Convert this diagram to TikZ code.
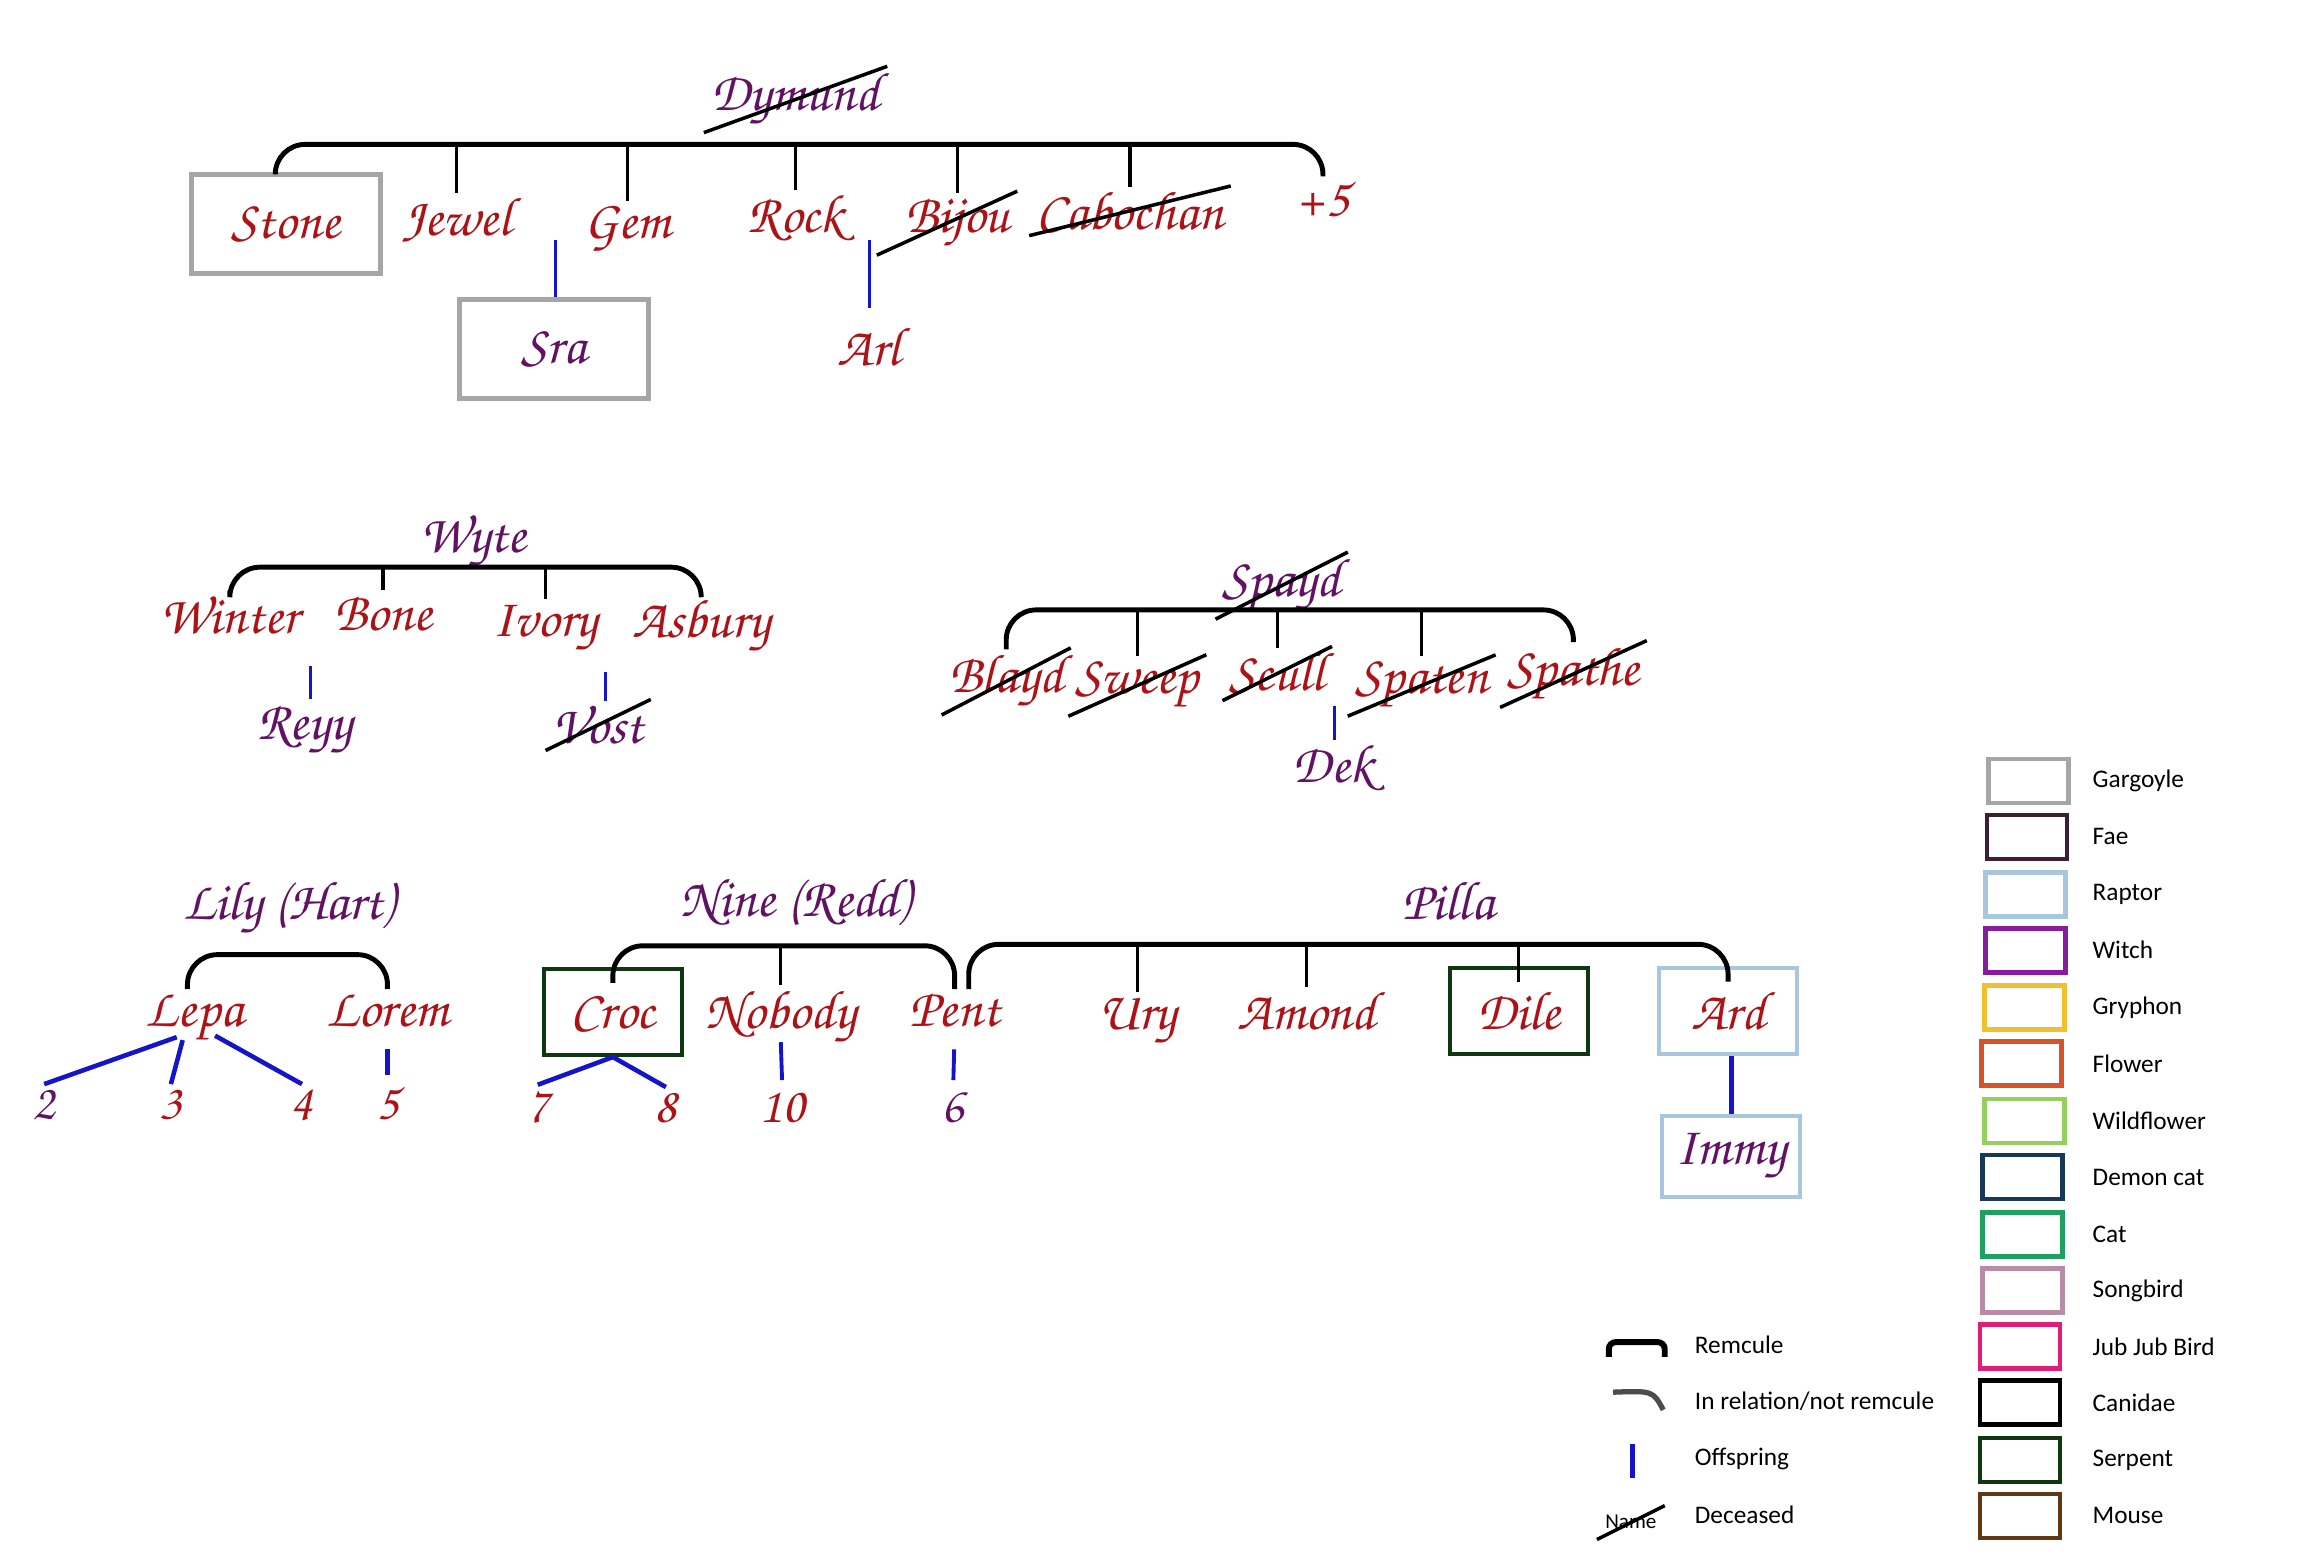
\documentclass[tikz,border=0pt]{standalone}
\usepackage{fontspec}
\usepackage{xcolor}
\usepackage{tikz}
\newfontfamily\keyfont{Carlito}
\newcommand\scriptname{\fontencoding{T1}\fontfamily{pzc}\fontseries{mb}\fontshape{it}\fontsize{15.5}{18}\selectfont}
\newcommand\scriptnum{\fontencoding{T1}\fontfamily{pzc}\fontseries{mb}\fontshape{it}\fontsize{14.5}{17}\selectfont}
\definecolor{kidred}{RGB}{172,18,22}
\definecolor{elderpurple}{RGB}{98,18,98}
\definecolor{kinblue}{RGB}{20,20,200}
\definecolor{gargoyle}{RGB}{166,166,166}
\definecolor{fae}{RGB}{64,30,50}
\definecolor{raptor}{RGB}{168,198,222}
\definecolor{witch}{RGB}{136,28,160}
\definecolor{gryphon}{RGB}{240,192,48}
\definecolor{flower}{RGB}{216,84,40}
\definecolor{wildflower}{RGB}{150,206,96}
\definecolor{demoncat}{RGB}{24,56,90}
\definecolor{cat}{RGB}{30,160,96}
\definecolor{songbird}{RGB}{184,140,168}
\definecolor{jubjub}{RGB}{224,30,120}
\definecolor{canidae}{RGB}{0,0,0}
\definecolor{serpent}{RGB}{16,56,16}
\definecolor{mouse}{RGB}{96,56,20}
\tikzset{
  kid/.style={font=\scriptname, text=kidred, inner sep=1pt, anchor=base},
  elder/.style={kid, text=elderpurple},
  num/.style={kid, font=\scriptnum},
  kind/.style={draw=#1, line width=1.1pt, anchor=center, minimum width=1.38cm, minimum height=0.86cm},
  remcule/.style={line width=1.4pt, rounded corners=0.3cm},
  tie/.style={line width=0.9pt},
  offspring/.style={draw=kinblue, line width=0.9pt},
  dead/.style={line width=1pt, shorten <=-1pt, shorten >=-1pt},
  key/.style={draw=#1, line width=1.3pt, minimum width=0.8cm, minimum height=0.44cm},
  keytext/.style={font=\keyfont\fontsize{7.2}{9}\selectfont, anchor=west, inner sep=0pt}
}
\begin{document}
\begin{tikzpicture}[x=0.14732mm, y=-0.14732mm]
\useasboundingbox (0,0) rectangle (1568,1057);

\node[elder] (dymund) at (540,75) {Dymund};
\node[kid, kind=gargoyle, line width=1.4pt, minimum width=1.89cm, minimum height=0.99cm] (stone) at (194,152) {Stone};
\node[kid] (jewel) at (310,160) {Jewel};
\node[kid] (gem) at (426,162) {Gem};
\node[kid] (rock) at (540,158) {Rock};
\node[kid] (bijou) at (650,158) {Bijou};
\node[kid] (cabochan) at (767,156) {Cabochan};
\node[kid] (plusfive) at (898,147) {+5};
\node[elder, kind=gargoyle, line width=1.4pt, minimum width=1.89cm, minimum height=0.99cm] (sra) at (376,237) {Sra};
\node[kid] (arl) at (590,248) {Arl};
\coordinate (dymbar) at (540,98);
\coordinate (gemkin) at (377,163);
\coordinate (bijoukin) at (590,163);
\draw[remcule] ([xshift=-3pt]stone.north) |- (dymbar) -| (plusfive.north);
\draw[tie] (jewel.north) -- (jewel.north |- dymbar);
\draw[tie] (gem.north) -- (gem.north |- dymbar);
\draw[tie] (rock.north) -- (rock.north |- dymbar);
\draw[tie] (bijou.north) -- (bijou.north |- dymbar);
\draw[tie] (cabochan.north) -- (cabochan.north |- dymbar);
\draw[dead] (dymund.south west) -- (dymund.north east);
\draw[dead] ([xshift=-6pt]bijou.south west) -- (bijou.north east);
\draw[dead] (cabochan.south west) -- (cabochan.north east);
\draw[offspring] (gemkin) -- (gemkin |- sra.north);
\draw[offspring, shorten >=4pt] (bijoukin) -- (arl.north);

\node[elder] (wyte) at (321,375) {Wyte};
\node[kid] (winter) at (156,430) {Winter};
\node[kid] (bone) at (260,428) {Bone};
\node[kid] (ivory) at (370,432) {Ivory};
\node[kid] (asbury) at (476,433) {Asbury};
\node[elder] (reyy) at (207,502) {Reyy};
\node[elder] (vost) at (406,505) {Vost};
\coordinate (wytebar) at (321,385);
\coordinate (winterkin) at (211,452);
\coordinate (ivorykin) at (411,456);
\draw[remcule] (winter.north) |- (wytebar) -| (asbury.north);
\draw[tie] (bone.north) -- (bone.north |- wytebar);
\draw[tie] (ivory.north) -- (ivory.north |- wytebar);
\draw[dead] (vost.south west) -- (vost.north east);
\draw[offspring] (winterkin) -- (winterkin |- reyy.north);
\draw[offspring] (ivorykin) -- (ivorykin |- vost.north);

\node[elder] (spayd) at (870,405) {Spayd};
\node[kid] (blayd) at (683,470) {Blayd};
\node[kid] (sweep) at (772,471) {Sweep};
\node[kid] (scull) at (867,469) {Scull};
\node[kid] (spaten) at (965,471) {Spaten};
\node[kid] (spathe) at (1068,465) {Spathe};
\node[elder] (dek) at (905,531) {Dek};
\coordinate (spaydbar) at (876,414);
\coordinate (scullkin) at (906,479);
\draw[remcule] (blayd.north) |- (spaydbar) -| (spathe.north);
\draw[tie] (sweep.north) -- (sweep.north |- spaydbar);
\draw[tie] (scull.north) -- (scull.north |- spaydbar);
\draw[tie] (spaten.north) -- (spaten.north |- spaydbar);
\draw[dead] (spayd.south west) -- (spayd.north east);
\draw[dead] (blayd.south west) -- (blayd.north east);
\draw[dead] (sweep.south west) -- (sweep.north east);
\draw[dead] (scull.south west) -- (scull.north east);
\draw[dead] (spaten.south west) -- (spaten.north east);
\draw[dead] (spathe.south west) -- (spathe.north east);
\draw[offspring] (scullkin) -- ++(0,23);

\node[elder] (lily) at (196,624) {Lily (Hart)};
\node[kid] (lepa) at (132,697) {Lepa};
\node[kid] (lorem) at (263,697) {Lorem};
\node[num, text=elderpurple] (n2) at (30,760) {2};
\node[num] (n3) at (116,760) {3};
\node[num] (n4) at (205,760) {4};
\node[num] (n5) at (263,760) {5};
\coordinate (lilybar) at (198,648);
\draw[remcule] ([xshift=-2pt]lepa.north) |- (lilybar) -| (lorem.north);
\draw[offspring, line width=1.3pt] ([shift={(-12,7)}]lepa.base) -- (n2.north);
\draw[offspring, line width=1.3pt] ([shift={(-8,9)}]lepa.base) -- (n3.north);
\draw[offspring, line width=1.3pt] ([shift={(14,6)}]lepa.base) -- (n4.north);
\draw[offspring, line width=1.3pt, shorten <=5pt, shorten >=2pt] (lorem.south) -- (n5.north);

\node[elder] (nine) at (540,622) {Nine (Redd)};
\node[kid, kind=serpent] (croc) at (416,687) {Croc};
\node[kid] (nobody) at (530,698) {Nobody};
\node[kid] (pent) at (648,697) {Pent};
\node[num] (n7) at (365,762) {7};
\node[num] (n8) at (452,762) {8};
\node[num] (n10) at (531,762) {10};
\node[num, text=elderpurple] (n6) at (647,762) {6};
\coordinate (ninebar) at (530,642);
\draw[remcule] ([yshift=-4.5pt]croc.north) |- (ninebar) -| (pent.north);
\draw[tie] (nobody.north) -- (nobody.north |- ninebar);
\draw[offspring, line width=1.3pt] (croc.south) -- (n7.north);
\draw[offspring, line width=1.3pt] (croc.south) -- (n8.north);
\draw[offspring, line width=1.1pt, shorten >=2pt] ([yshift=2pt]nobody.south) -- (n10.north);
\draw[offspring, line width=1.1pt, shorten <=5pt, shorten >=2pt] (pent.south) -- (n6.north);

\node[elder] (pilla) at (983,624) {Pilla};
\node[kid] (ury) at (772,699) {Ury};
\node[kid] (amond) at (887,699) {Amond};
\node[kid, kind=serpent] (dile) at (1031,686) {Dile};
\node[kid, kind=raptor] (ard) at (1173,686) {Ard};
\node[elder, kind=raptor, minimum height=0.81cm] (immy) at (1175,785) {Immy};
\coordinate (pillabar) at (983,641);
\draw[remcule] ([xshift=4pt]pent.north) |- (pillabar) -| ([yshift=-4.5pt]ard.north);
\draw[tie] (ury.north) -- (ury.north |- pillabar);
\draw[tie] (amond.north) -- (amond.north |- pillabar);
\draw[tie] ([yshift=-4.5pt]dile.north) -- (dile.north |- pillabar);
\draw[offspring, line width=1.3pt] ([xshift=1pt]ard.south) -- ([xshift=1pt]ard.south |- immy.north);

\node[key=gargoyle] (keygargoyle) at (1377,530) {};
\node[key=fae] (keyfae) at (1376,568) {};
\node[key=raptor] (keyraptor) at (1375,607) {};
\node[key=witch] (keywitch) at (1375,645) {};
\node[key=gryphon] (keygryphon) at (1374,684) {};
\node[key=flower] (keyflower) at (1372,722) {};
\node[key=wildflower] (keywildflower) at (1374,761) {};
\node[key=demoncat] (keydemoncat) at (1373,799) {};
\node[key=cat] (keycat) at (1373,838) {};
\node[key=songbird] (keysongbird) at (1373,876) {};
\node[key=jubjub] (keyjubjub) at (1371,914) {};
\node[key=canidae] (keycanidae) at (1371,952) {};
\node[key=serpent] (keyserpent) at (1371,991) {};
\node[key=mouse] (keymouse) at (1371,1029) {};
\node[keytext] (labgargoyle) at (1420,530) {Gargoyle};
\node[keytext] (labfae) at (1420,568) {Fae};
\node[keytext] (labraptor) at (1420,607) {Raptor};
\node[keytext] (labwitch) at (1420,645) {Witch};
\node[keytext] (labgryphon) at (1420,684) {Gryphon};
\node[keytext] (labflower) at (1420,722) {Flower};
\node[keytext] (labwildflower) at (1420,761) {Wildflower};
\node[keytext] (labdemoncat) at (1420,799) {Demon cat};
\node[keytext] (labcat) at (1420,838) {Cat};
\node[keytext] (labsongbird) at (1420,876) {Songbird};
\node[keytext] (labjubjub) at (1420,914) {Jub Jub Bird};
\node[keytext] (labcanidae) at (1420,952) {Canidae};
\node[keytext] (labserpent) at (1420,991) {Serpent};
\node[keytext] (labmouse) at (1420,1029) {Mouse};

\draw[remcule, line width=1.7pt, rounded corners=2pt] (1092,921) |- (1111,911) -| (1130,921);
\draw[line width=1.5pt, black!70] (1095,945) .. controls (1122,944) .. (1129,957);
\draw[offspring, line width=1.5pt] (1108,980) -- (1108,1003);
\node[keytext, anchor=center, font=\keyfont\fontsize{6}{7}\selectfont] (legname) at (1107,1033) {Name};
\draw[line width=1pt] (1084,1045) -- (1130,1022);
\node[keytext] (labremcule) at (1150,913) {Remcule};
\node[keytext] (labrelation) at (1150,951) {In relation/not remcule};
\node[keytext] (laboffspring) at (1150,990) {Offspring};
\node[keytext] (labdeceased) at (1150,1028) {Deceased};
\end{tikzpicture}
\end{document}
